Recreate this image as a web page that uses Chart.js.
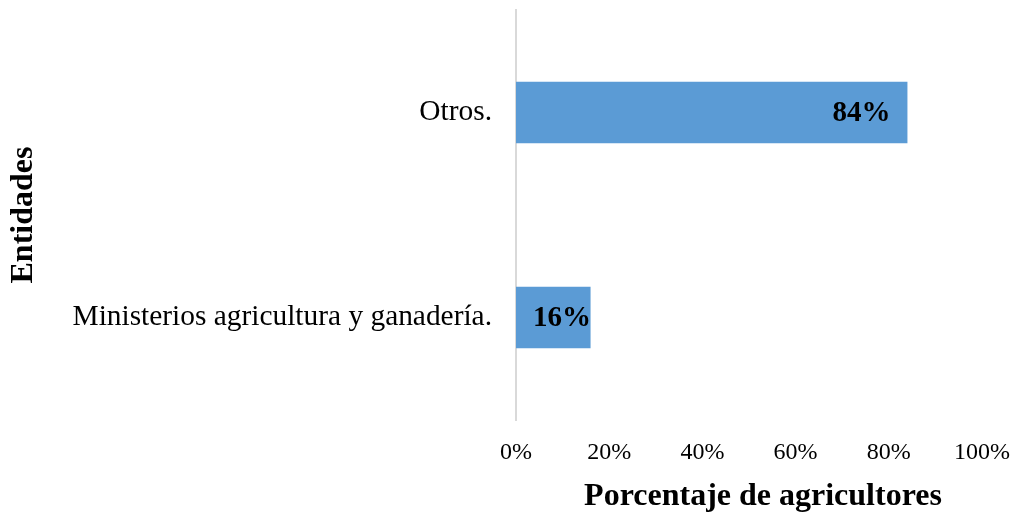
<!DOCTYPE html>
<html>
<head>
<meta charset="utf-8">
<script src="https://cdn.jsdelivr.net/npm/chart.js@4"></script>
<style>
  html, body { margin: 0; padding: 0; background: #fff; }
  #wrap { width: 1014px; height: 515px; }
</style>
</head>
<body>
<div id="wrap"><canvas id="myChart"></canvas></div>
<script>
  // datos
  const entidades = ['Otros.', 'Ministerios agricultura y ganadería.']
  const porcentajes = [84, 16]
  const ticksX = [0, 20, 40, 60, 80, 100]
  const tituloX = 'Porcentaje de agricultores'

  // etiquetas dentro de la barra + titulo del eje x
  const etiquetas = {
    id: 'etiquetas',
    afterDatasetsDraw(chart) {
      const ctx = chart.ctx
      const meta = chart.getDatasetMeta(0)
      ctx.save()
      ctx.font = 'bold 29px "Liberation Serif"'
      ctx.fillStyle = '#000'
      ctx.textAlign = 'right'
      ctx.textBaseline = 'middle'
      meta.data.forEach((bar, i) => {
        const txt = porcentajes[i] + '%'
        const w = ctx.measureText(txt).width
        const x = Math.max(bar.x - 17, bar.base + 17 + w)
        ctx.fillText(txt, x, bar.y + 1)
      })
      // titulo eje x (un poco a la derecha, como el original)
      const area = chart.chartArea
      ctx.font = 'bold 32px "Liberation Serif"'
      ctx.textAlign = 'center'
      ctx.textBaseline = 'middle'
      ctx.fillText(tituloX, (area.left + area.right) / 2 + 14, 497)
      ctx.restore()
    }
  }

  const ctx = document.getElementById('myChart')
  const myChart = new Chart(ctx, {
    type: 'bar',
    data: {
      labels: entidades,
      datasets: [{
        data: porcentajes,
        backgroundColor: '#5b9bd5',
        borderWidth: 0,
        categoryPercentage: 1,
        barPercentage: 0.3
      }]
    },
    options: {
      indexAxis: 'y',
      responsive: true,
      maintainAspectRatio: false,
      animation: false,
      layout: { padding: { top: 10, right: 32, left: 0, bottom: 0 } },
      scales: {
        x: {
          min: 0,
          max: 100,
          afterBuildTicks: (axis) => { axis.ticks = ticksX.map(v => ({ value: v })) },
          afterFit: (s) => {
            s.height = 95
            s.paddingLeft = 0
            s.paddingRight = 0
          },
          grid: { display: false, drawTicks: false },
          border: { display: false },
          ticks: {
            padding: 18,
            color: '#000',
            maxRotation: 0,
            font: { family: 'Liberation Serif', size: 24 },
            callback: (v) => v + '%'
          }
        },
        y: {
          afterFit: (s) => {
            s.width = 516
            s.paddingTop = 0
            s.paddingBottom = 0
          },
          grid: { display: false, drawTicks: false },
          border: { display: true, color: '#d9d9d9', width: 2 },
          ticks: {
            padding: 24,
            color: '#000',
            font: { family: 'Liberation Serif', size: 29.4 }
          },
          title: {
            display: true,
            text: 'Entidades',
            color: '#000',
            font: { family: 'Liberation Serif', size: 32, weight: 'bold' },
            padding: { top: 5, bottom: 0 }
          }
        }
      },
      plugins: {
        legend: { display: false },
        tooltip: { enabled: false }
      }
    },
    plugins: [etiquetas]
  })
</script>
</body>
</html>
